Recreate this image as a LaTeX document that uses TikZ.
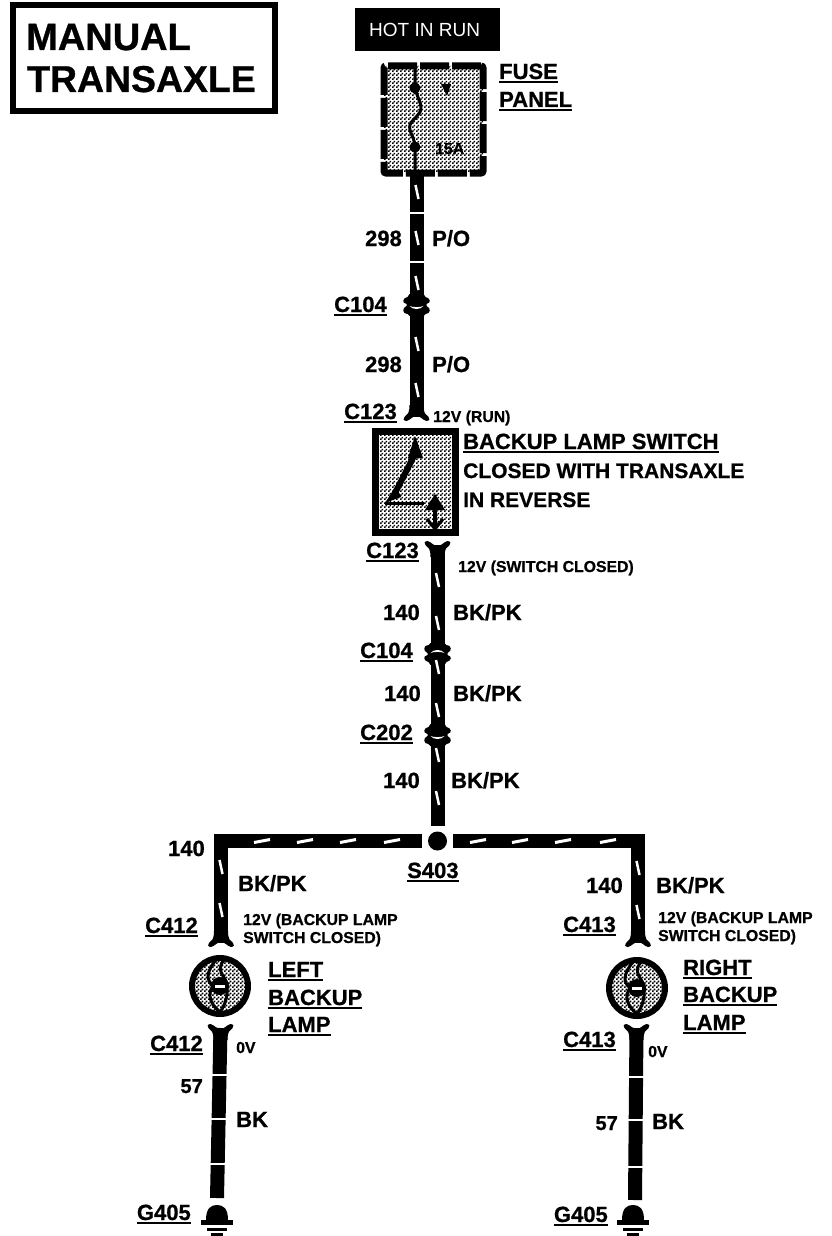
\documentclass[tikz,border=0pt]{standalone}
\usepackage{fontspec}
\setmainfont{Liberation Sans}[BoldFeatures={FakeBold=0.8}]
\usepackage{tikz}
\usetikzlibrary{patterns}
\pgfdeclarepatternformonly{checker}{\pgfpointorigin}{\pgfqpoint{4pt}{4pt}}{\pgfqpoint{4pt}{4pt}}{
  \pgfpathrectangle{\pgfpointorigin}{\pgfqpoint{2pt}{2pt}}
  \pgfpathrectangle{\pgfqpoint{2pt}{2pt}}{\pgfqpoint{2pt}{2pt}}
  \pgfusepath{fill}}
\newcommand{\ulbl}[1]{\leavevmode\vtop{\hbox{#1}\kern1.5pt\hrule height 2.5pt}}
\tikzset{
  lbl/.style={inner sep=0pt,anchor=base west,font=\bfseries\fontsize{22}{22}\selectfont},
  lble/.style={lbl,anchor=base east},
  lblsm/.style={lbl,font=\bfseries\fontsize{15.8}{16}\selectfont},
  wire/.style={line width=14pt,line join=miter},
  dottedbox/.style={draw,pattern=checker,inner sep=0pt},
  fork/.pic={\fill (-7,-12) .. controls (-7,-4) and (-9,-2) .. (-12,0) .. controls (-14,1) and (-13,4) .. (-10,4)
    .. controls (-6,3) and (-4,-1) .. (0,-1) .. controls (4,-1) and (6,3) .. (10,4)
    .. controls (13,4) and (14,1) .. (12,0) .. controls (9,-2) and (7,-4) .. (7,-12) -- cycle;},
  mate/.pic={\fill (-7,-11) -- (-9,-8) .. controls (-14,-7) and (-15,-2) .. (-10,-1) -- (-10,1)
    .. controls (-15,3) and (-14,9) .. (-9,9) -- (-7,11) -- (7,11) -- (9,9)
    .. controls (14,9) and (15,3) .. (10,1) -- (10,-1) .. controls (15,-2) and (14,-7) .. (9,-8) -- (7,-11) -- cycle;
    \fill[white] (-7,1) .. controls (-4,5) and (4,5) .. (7,1) .. controls (4,2.5) and (-4,2.5) .. cycle;},
  vslash/.pic={\draw[white,line width=2.5pt] (-1.5,-7) -- (1.5,7);},
  hslash/.pic={\draw[white,line width=3pt] (-8,1.5) -- (8,-1.5);},
  wgap/.pic={\fill[white] (-10,-1) rectangle (10,1);},
  gnd/.pic={\fill (-11,15) .. controls (-11,3) and (-6,0) .. (0,0) .. controls (6,0) and (11,3) .. (11,15) -- cycle;
    \fill (-16,15) rectangle (16,20);
    \fill (-10,23) rectangle (10,26);
    \fill (-6,28) rectangle (6,31);},
  bulb/.pic={\draw[line width=3pt] (-4,-26) .. controls (-14,-14) and (-14,-6) .. (-7,0) .. controls (-13,8) and (-10,18) .. (0,26);
    \draw[line width=3pt] (4,-26) .. controls (-6,-14) and (8,-8) .. (7,0) .. controls (8,8) and (6,18) .. (0,26);
    \fill (0,0) circle (9);
    \fill[white] (-5,-1) rectangle (5,1.5);}
}
\begin{document}
\begin{tikzpicture}[x=1pt,y=-1pt]
      \useasboundingbox (0,0) rectangle (832,1236);
      \node (title) [draw,line width=6pt,minimum width=262pt,minimum height=106pt,inner sep=0pt] at (143.5,58) {};
      \node (manual) [lbl,font=\bfseries\fontsize{38}{38}\selectfont] at (26,50) {MANUAL};
      \node (transaxle) [lbl,font=\bfseries\fontsize{37.4}{38}\selectfont] at (27,92) {TRANSAXLE};
      \node (hot) [fill=black,minimum width=145pt,minimum height=43pt,inner sep=0pt] at (427.5,29.5) {};
      \node (hottext) [lbl,text=white,font=\fontsize{19}{19}\selectfont] at (369,37) {HOT IN RUN};

      \node (fuse) [dottedbox,line width=7pt,dash pattern=on 29pt off 3pt,rounded corners=2pt,minimum width=99pt,minimum height=107pt] at (433.5,119.5) {};
      \draw[line width=3pt] (415,66) -- (415,88) .. controls (418,100) and (423,105) .. (420,112)
        .. controls (415,120) and (408,122) .. (410,130) .. controls (412,137) and (415,140) .. (415,147) -- (415,173);
      \fill (415,88) circle (5.5);
      \fill (415,147) circle (5.5);
      \fill (441,84) -- (451,84) -- (447,96) -- cycle;
      \node (amp) [lblsm] at (435,154) {15A};
      \node (fusea) [lbl] at (499,79) {\ulbl{FUSE}};
      \node (fuseb) [lbl] at (499,107) {\ulbl{PANEL}};

      \coordinate (w1a) at (416.5,172);
      \coordinate (c104a) at (416.5,305);
      \coordinate (c123a) at (416.5,417);
      \path[wire,draw] (w1a) -- (c104a);
      \path[wire,draw] (c104a) -- (c123a);
      \pic at (c104a) {mate};
      \pic at (c123a) {fork};
      \foreach \yy in {192,238,283,344,390} {\pic at (417,\yy) {vslash};}
      \foreach \yy in {213,262} {\pic at (416.5,\yy) {wgap};}

      \node (n298a) [lble] at (402,246) {298};
      \node (po298a) [lbl] at (432,246) {P/O};
      \node (cc104a) [lble] at (387,312) {\ulbl{C104}};
      \node (n298b) [lble] at (402,372) {298};
      \node (po298b) [lbl] at (432,372) {P/O};
      \node (cc123a) [lble] at (397,419) {\ulbl{C123}};
      \node (vrun) [lblsm] at (433,422) {12V (RUN)};

      \node (switch) [dottedbox,line width=7pt,minimum width=80pt,minimum height=101pt] at (415.5,482) {};
      \fill (415,436) -- (423,458) -- (408,458) -- cycle;
      \draw[line width=6pt] (414,456) -- (393,497);
      \fill (385,503) -- (396,486) -- (401,497) -- cycle;
      \draw[line width=3pt] (385,503) -- (424,503);
      \fill (435,494) -- (445,510) -- (425,510) -- cycle;
      \draw[line width=3.5pt] (435,508) -- (435,530);
      \draw[line width=3pt] (427,519) -- (435,529) -- (443,519);
      \node (swa) [lbl] at (463,449) {\ulbl{BACKUP LAMP SWITCH}};
      \node (swb) [lbl,font=\bfseries\fontsize{21}{21}\selectfont] at (463,478) {CLOSED WITH TRANSAXLE};
      \node (swc) [lbl,font=\bfseries\fontsize{21}{21}\selectfont] at (463,507) {IN REVERSE};

      \node (s403) [circle,fill=black,minimum size=19pt,inner sep=0pt,outer sep=6pt] at (437.5,841) {};
      \coordinate (c123b) at (437.5,545);
      \coordinate (c104b) at (437.5,654);
      \coordinate (c202) at (437.5,735);
      \path[wire,draw] (c123b) -- (c104b);
      \path[wire,draw] (c104b) -- (c202);
      \path[wire,draw] (c202) -- (s403.north);
      \pic[yscale=-1] at (c123b) {fork};
      \pic[yscale=-1] at (c104b) {mate};
      \pic at (c202) {mate};
      \foreach \yy in {580,623,667,710,755,798} {\pic at (437.5,\yy) {vslash};}

      \node (cc123b) [lble] at (419,558) {\ulbl{C123}};
      \node (vsw) [lblsm] at (458,572) {12V (SWITCH CLOSED)};
      \node (n140a) [lble] at (420,620) {140};
      \node (bp140a) [lbl] at (453,620) {BK/PK};
      \node (cc104b) [lble] at (413,658) {\ulbl{C104}};
      \node (n140b) [lble] at (421,701) {140};
      \node (bp140b) [lbl] at (453,701) {BK/PK};
      \node (cc202) [lble] at (413,740) {\ulbl{C202}};
      \node (n140c) [lble] at (420,788) {140};
      \node (bp140c) [lbl] at (451,788) {BK/PK};
      \node (ss403) [lbl] at (407,878) {\ulbl{S403}};

      \coordinate (lforka) at (221,943);
      \coordinate (rforka) at (638,943);
      \path[wire,draw] (s403.west) -| (lforka);
      \path[wire,draw] (s403.east) -| (rforka);
      \pic at (lforka) {fork};
      \pic at (rforka) {fork};
      \foreach \xx in {262,305,348,392,478,520,563,608} {\pic at (\xx,841) {hslash};}
      \pic at (221,867) {vslash};
      \pic at (221,910) {vslash};
      \pic at (638,868) {vslash};
      \pic at (638,912) {vslash};

      \node (n140l) [lble] at (205,856) {140};
      \node (bp140l) [lbl] at (238,891) {BK/PK};
      \node (cc412a) [lble] at (198,933) {\ulbl{C412}};
      \node (vla) [lblsm] at (243,925) {12V (BACKUP LAMP};
      \node (vlb) [lblsm] at (243,943) {SWITCH CLOSED)};
      \node (n140r) [lble] at (623,893) {140};
      \node (bp140r) [lbl] at (656,893) {BK/PK};
      \node (cc413a) [lble] at (616,932) {\ulbl{C413}};
      \node (vra) [lblsm] at (658,923) {12V (BACKUP LAMP};
      \node (vrb) [lblsm] at (658,941) {SWITCH CLOSED)};

      \node (llamp) [dottedbox,circle,line width=6pt,minimum size=56pt] at (220,986) {};
      \node (rlamp) [dottedbox,circle,line width=6pt,minimum size=56pt] at (637,988) {};
      \pic at (llamp) {bulb};
      \pic at (rlamp) {bulb};
      \node (lla) [lbl] at (268,977) {\ulbl{LEFT}};
      \node (llb) [lbl] at (268,1005) {\ulbl{BACKUP}};
      \node (llc) [lbl] at (268,1032) {\ulbl{LAMP}};
      \node (rla) [lbl] at (683,975) {\ulbl{RIGHT}};
      \node (rlb) [lbl] at (683,1002) {\ulbl{BACKUP}};
      \node (rlc) [lbl] at (683,1030) {\ulbl{LAMP}};

      \coordinate (lforkb) at (220.5,1028);
      \coordinate (rforkb) at (636.5,1028);
      \coordinate (lgnd) at (217,1205);
      \coordinate (rgnd) at (633,1205);
      \path[wire,draw] (lforkb) -- (217,1198);
      \path[wire,draw] (rforkb) -- (635,1200);
      \pic[yscale=-1] at (lforkb) {fork};
      \pic[yscale=-1] at (rforkb) {fork};
      \foreach \yy in {1075,1119,1164} {\pic at (219,\yy) {wgap};}
      \foreach \yy in {1077,1120,1167} {\pic at (636,\yy) {wgap};}
      \pic at (lgnd) {gnd};
      \pic at (rgnd) {gnd};

      \node (cc412b) [lble] at (203,1051) {\ulbl{C412}};
      \node (vl0) [lblsm] at (236,1053) {0V};
      \node (n57l) [lble,font=\bfseries\fontsize{20}{20}\selectfont] at (203,1093) {57};
      \node (bkl) [lbl] at (236,1127) {BK};
      \node (gl) [lble] at (191,1220) {\ulbl{G405}};
      \node (cc413b) [lble] at (616,1047) {\ulbl{C413}};
      \node (vr0) [lblsm] at (648,1057) {0V};
      \node (n57r) [lble,font=\bfseries\fontsize{20}{20}\selectfont] at (618,1130) {57};
      \node (bkr) [lbl] at (652,1129) {BK};
      \node (gr) [lble] at (608,1222) {\ulbl{G405}};
    \end{tikzpicture}
\end{document}
